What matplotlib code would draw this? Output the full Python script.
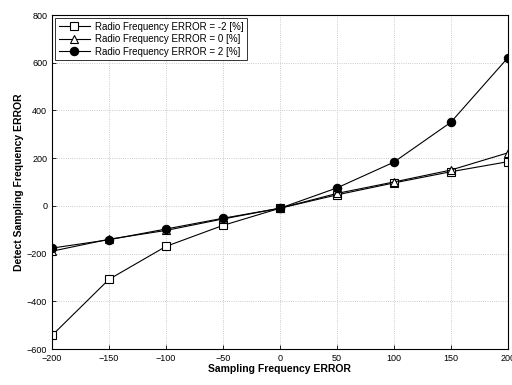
import matplotlib
matplotlib.use("Agg")
import matplotlib.pyplot as plt

x = [-200, -150, -100, -50, 0, 50, 100, 150, 200]
rf_m2 = [-543, -308, -170, -82, -10, 46, 96, 143, 185]
rf_0 = [-190, -140, -103, -55, -10, 52, 100, 150, 222]
rf_p2 = [-177, -142, -97, -52, -10, 75, 183, 350, 620]
labels = ["Radio Frequency ERROR = -2 [%]",
          "Radio Frequency ERROR = 0 [%]",
          "Radio Frequency ERROR = 2 [%]"]

plt.rcParams['font.family'] = ['Liberation Sans', 'DejaVu Sans']
fig = plt.figure(figsize=(5.12, 3.85), dpi=100)
ax = fig.add_axes([0.1016, 0.0935, 0.89, 0.8675])

ax.plot(x, rf_m2, '-s', color='black', lw=0.8, ms=5.5, mfc='white', mec='black', mew=0.8, label=labels[0])
ax.plot(x, rf_0, '-^', color='black', lw=0.8, ms=6, mfc='white', mec='black', mew=0.8, label=labels[1])
ax.plot(x, rf_p2, '-o', color='black', lw=0.8, ms=6, mfc='black', mec='black', mew=0.8, label=labels[2])

ax.set_xlim(-200, 200)
ax.set_ylim(-600, 800)
ax.set_xticks(range(-200, 201, 50))
ax.set_yticks(range(-600, 801, 200))
ax.tick_params(direction='in', labelsize=6.5, length=3, width=0.6)
ax.grid(True, linestyle=':', color='#bbbbbb', lw=0.6)
for s in ax.spines.values():
    s.set_linewidth(0.8)
ax.set_xlabel("Sampling Frequency ERROR", fontsize=7.5, fontweight='bold', labelpad=1)
ax.set_ylabel("Detect Sampling Frequency ERROR", fontsize=7.5, fontweight='bold', labelpad=2)
leg = ax.legend(loc='upper left', fontsize=7, frameon=True, fancybox=False,
                edgecolor='black', borderpad=0.35, labelspacing=0.25, handlelength=3.2,
                handletextpad=0.5, borderaxespad=0.35)
leg.get_frame().set_linewidth(0.7)
fig.savefig("out.png", dpi=100)
